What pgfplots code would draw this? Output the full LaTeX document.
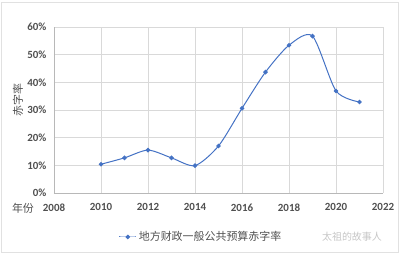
\documentclass[border=0pt]{standalone}
\usepackage{pgfplots}
\pgfplotsset{compat=1.18}
\usepackage{fontspec}
\setmainfont{Carlito}
\newfontfamily\cjk{Noto Sans CJK SC}
\definecolor{ser}{RGB}{68,114,196}
\definecolor{tick}{RGB}{80,80,80}
\definecolor{grid}{RGB}{217,217,217}
\begin{document}
\begin{tikzpicture}[x=1bp,y=1bp]
\draw[color=grid!80!white, line width=0.8bp] (1,1) rectangle (398,251);
\useasboundingbox (0,0) rectangle (400,253);
\begin{axis}[
  at={(54bp,60bp)}, anchor=south west,
  scale only axis, width=329bp, height=166bp,
  xmin=2008, xmax=2022, ymin=0, ymax=60,
  xtick={2008,2010,...,2022}, ytick={0,10,...,60},
  /pgf/number format/assume math mode=true,
  x tick label style={/pgf/number format/1000 sep={}, font=\fontsize{11}{13}\selectfont\bfseries, text=tick, yshift=-7bp},
  y tick label style={font=\fontsize{11}{13}\selectfont\bfseries, text=tick, xshift=-4bp},
  yticklabel={\pgfmathprintnumber{\tick}\%},
  grid=major, major grid style={color=grid, line width=0.7bp},
  axis x line*=bottom, axis y line*=left,
  axis line style={color=grid!85!black, line width=0.7bp},
  tick style={draw=none},
  legend style={at={(0.447,-0.265)}, anchor=center, draw=none, fill=none,
    font=\cjk\fontsize{11}{13}\selectfont, text=tick},
  legend cell align=left,
]
\addplot[color=ser, line width=1bp, smooth, tension=0.45, mark=*, mark size=1.7bp,
  mark options={fill=ser, draw=ser}]
  coordinates {
  (2010,10.4) (2011,12.7) (2012,15.5) (2013,12.7) (2014,9.9) (2015,17.0)
  (2016,30.6) (2017,43.7) (2018,53.4) (2019,56.7) (2020,36.9) (2021,32.9)
  };
\addlegendentry{地方财政一般公共预算赤字率}
\end{axis}
\node[font=\cjk\fontsize{11}{13}\selectfont, text=tick, rotate=90] at (18,153) {赤字率};
\node[font=\cjk\fontsize{11}{13}\selectfont, text=tick] at (23,45) {年份};
\node[font=\cjk\fontsize{10}{12}\selectfont, text=gray!45] at (352,16) {太祖的故事人};
\end{tikzpicture}
\end{document}
